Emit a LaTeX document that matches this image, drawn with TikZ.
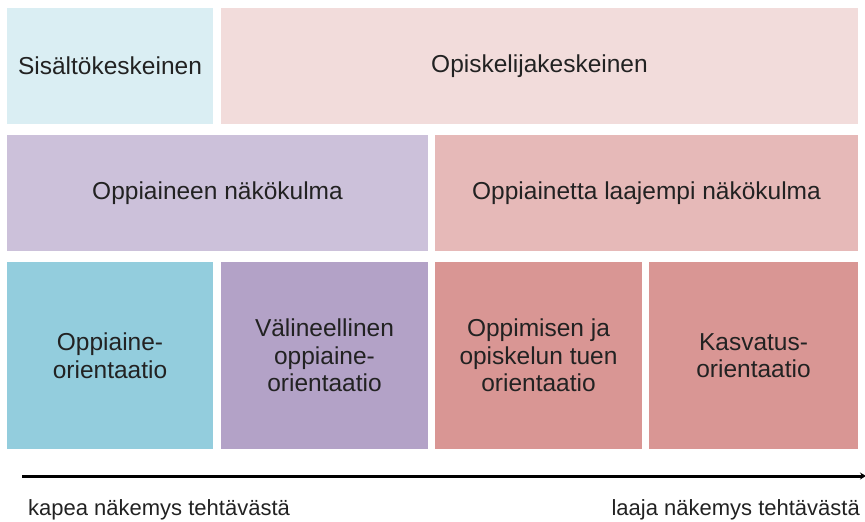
\documentclass[tikz,border=0pt]{standalone}
\usepackage{fontspec}
\setmainfont{Liberation Sans}
\usetikzlibrary{arrows.meta}
\definecolor{celltxt}{HTML}{222222}
\definecolor{paleblue}{HTML}{DAEEF3}
\definecolor{palepink}{HTML}{F2DCDB}
\definecolor{lavender}{HTML}{CCC1DA}
\definecolor{rosepink}{HTML}{E6B9B8}
\definecolor{aqua}{HTML}{93CDDD}
\definecolor{violet}{HTML}{B3A2C7}
\definecolor{dustyred}{HTML}{D99694}
\tikzset{
  cell/.style={fill=#1, inner sep=0pt, align=center, text=celltxt,
    font=\fontsize{24.5}{27.5}\selectfont},
  axislabel/.style={inner sep=0pt, text=celltxt, font=\fontsize{22}{26}\selectfont}
}
\begin{document}
\begin{tikzpicture}[x=1pt, y=-1pt]
    \useasboundingbox (0,0) rectangle (865,522);

    % top row
    \node [cell=paleblue, minimum width=206, minimum height=116] (sisalto) at (110,66) {Sis\"alt\"okeskeinen};
    \node [cell=palepink, minimum width=637, minimum height=116] (opiskelija) at (539.5,66) {Opiskelijakeskeinen};

    % middle row
    \node [cell=lavender, minimum width=421, minimum height=116] (oppiaine) at (217.5,193) {Oppiaineen n\"ak\"okulma};
    \node [cell=rosepink, minimum width=423, minimum height=116] (laajempi) at (646.5,193) {Oppiainetta laajempi n\"ak\"okulma};

    % bottom row
    \node [cell=aqua, minimum width=206, minimum height=187] (orient1) at (110,355.5) {Oppiaine-\\orientaatio};
    \node [cell=violet, minimum width=207, minimum height=187] (orient2) at (324.5,355.5) {V\"alineellinen\\oppiaine-\\orientaatio};
    \node [cell=dustyred, minimum width=207, minimum height=187] (orient3) at (538.5,355.5) {Oppimisen ja\\opiskelun tuen\\orientaatio};
    \node [cell=dustyred, minimum width=209, minimum height=187] (orient4) at (753.5,355.5) {Kasvatus-\\orientaatio};

    % axis
    \coordinate (axl) at (22,476);
    \coordinate (axr) at (866,476);
    \draw [line width=3pt, -{Stealth[length=6pt, width=7pt]}] (axl) -- (axr);

    \node [axislabel, anchor=base west] (kapea) at (28,515) {kapea n\"akemys teht\"av\"ast\"a};
    \node [axislabel, anchor=base east] (laaja) at (860,515) {laaja n\"akemys teht\"av\"ast\"a};
\end{tikzpicture}
\end{document}
